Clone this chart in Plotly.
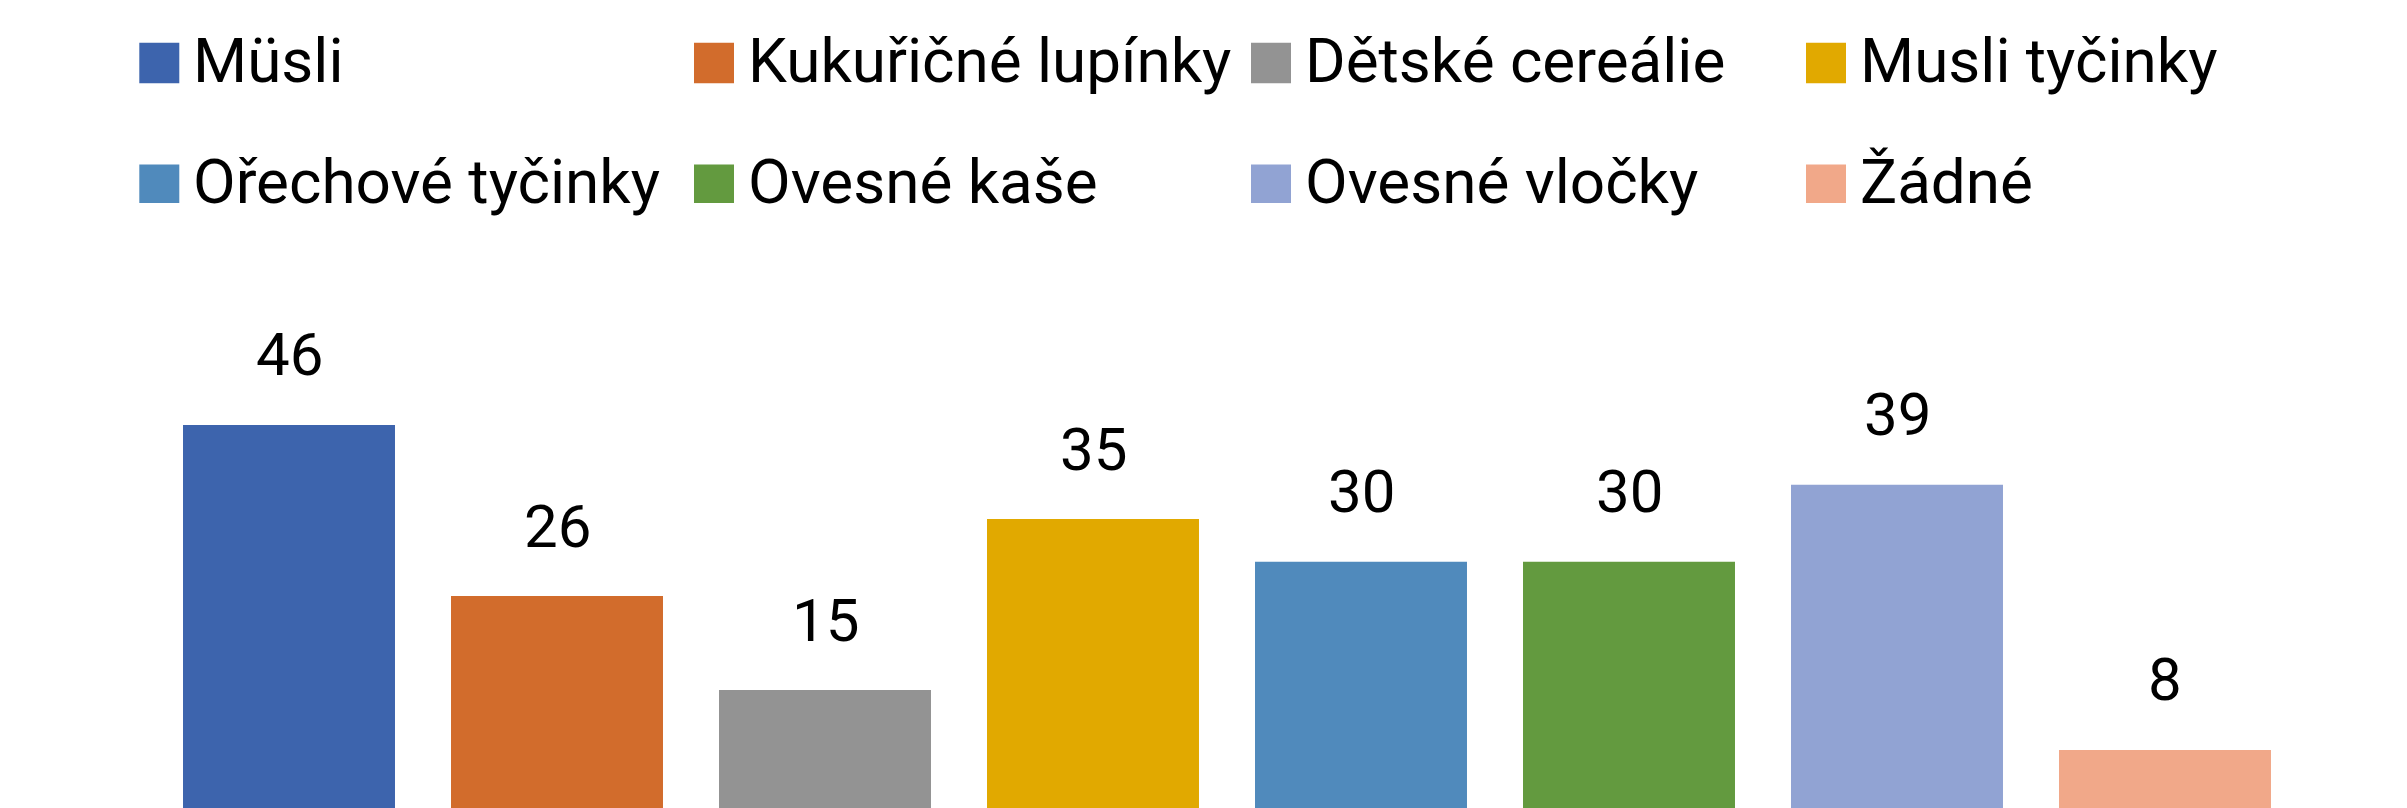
import plotly.graph_objects as go

categories = ["Müsli", "Kukuřičné lupínky", "Dětské cereálie", "Musli tyčinky",
              "Ořechové tyčinky", "Ovesné kaše", "Ovesné vločky", "Žádné"]
values = [46, 26, 15, 35, 30, 30, 39, 8]
colors = ["#3D64AD", "#D26C2C", "#939393", "#E1A900",
          "#508ABC", "#639A3F", "#91A3D3", "#F1A889"]

W, H = 2407, 808
ML, MR, MT, MB = 155, 108, 200, 0
PW, PH = W - ML - MR, H - MT - MB
FONT = "Roboto, 'Open Sans', sans-serif"


def px_x(px):
    return (px - ML) / PW


def px_y(py):
    return (H - MB - py) / PH


fig = go.Figure()
fig.add_trace(go.Bar(
    x=categories, y=values, marker=dict(color=colors, line=dict(width=0)),
    showlegend=False, hoverinfo="x+y",
))

annotations = []
for cat, val in zip(categories, values):
    annotations.append(dict(
        x=cat, y=val, xref="x", yref="y", text=str(val), showarrow=False,
        yanchor="middle", xanchor="center", yshift=70,
        font=dict(family=FONT, size=60, color="#000000"),
    ))

# custom legend (large square swatches)
shapes = []
col_left = [139.3, 694.0, 1251.0, 1806.0]
row_sq = [(42.7, 83.3), (164.5, 203.0)]
row_mid = [61.0, 181.0]
for i, (name, color) in enumerate(zip(categories, colors)):
    r, c = divmod(i, 4)
    x0 = col_left[c]
    y0, y1 = row_sq[r]
    shapes.append(dict(
        type="rect", xref="paper", yref="paper",
        x0=px_x(x0), x1=px_x(x0 + 40), y0=px_y(y1), y1=px_y(y0),
        fillcolor=color, line=dict(width=0), layer="above",
    ))
    annotations.append(dict(
        x=px_x(x0 + 52), y=px_y(row_mid[r]), xref="paper", yref="paper",
        text=name, showarrow=False, xanchor="left", yanchor="middle",
        font=dict(family=FONT, size=62, color="#000000"),
    ))

fig.update_layout(
    width=W, height=H,
    margin=dict(l=ML, r=MR, t=MT, b=MB, pad=0),
    paper_bgcolor="#FFFFFF", plot_bgcolor="#FFFFFF",
    bargap=0.209,
    xaxis=dict(visible=False, range=[-0.5, 7.5], fixedrange=True),
    yaxis=dict(visible=False, range=[1.216, 72.30], fixedrange=True),
    annotations=annotations, shapes=shapes,
    showlegend=False,
    font=dict(family=FONT, size=60, color="#000000"),
)

fig.write_html("out.html", config={"displayModeBar": False},
               post_script="document.body.style.margin='0';")
